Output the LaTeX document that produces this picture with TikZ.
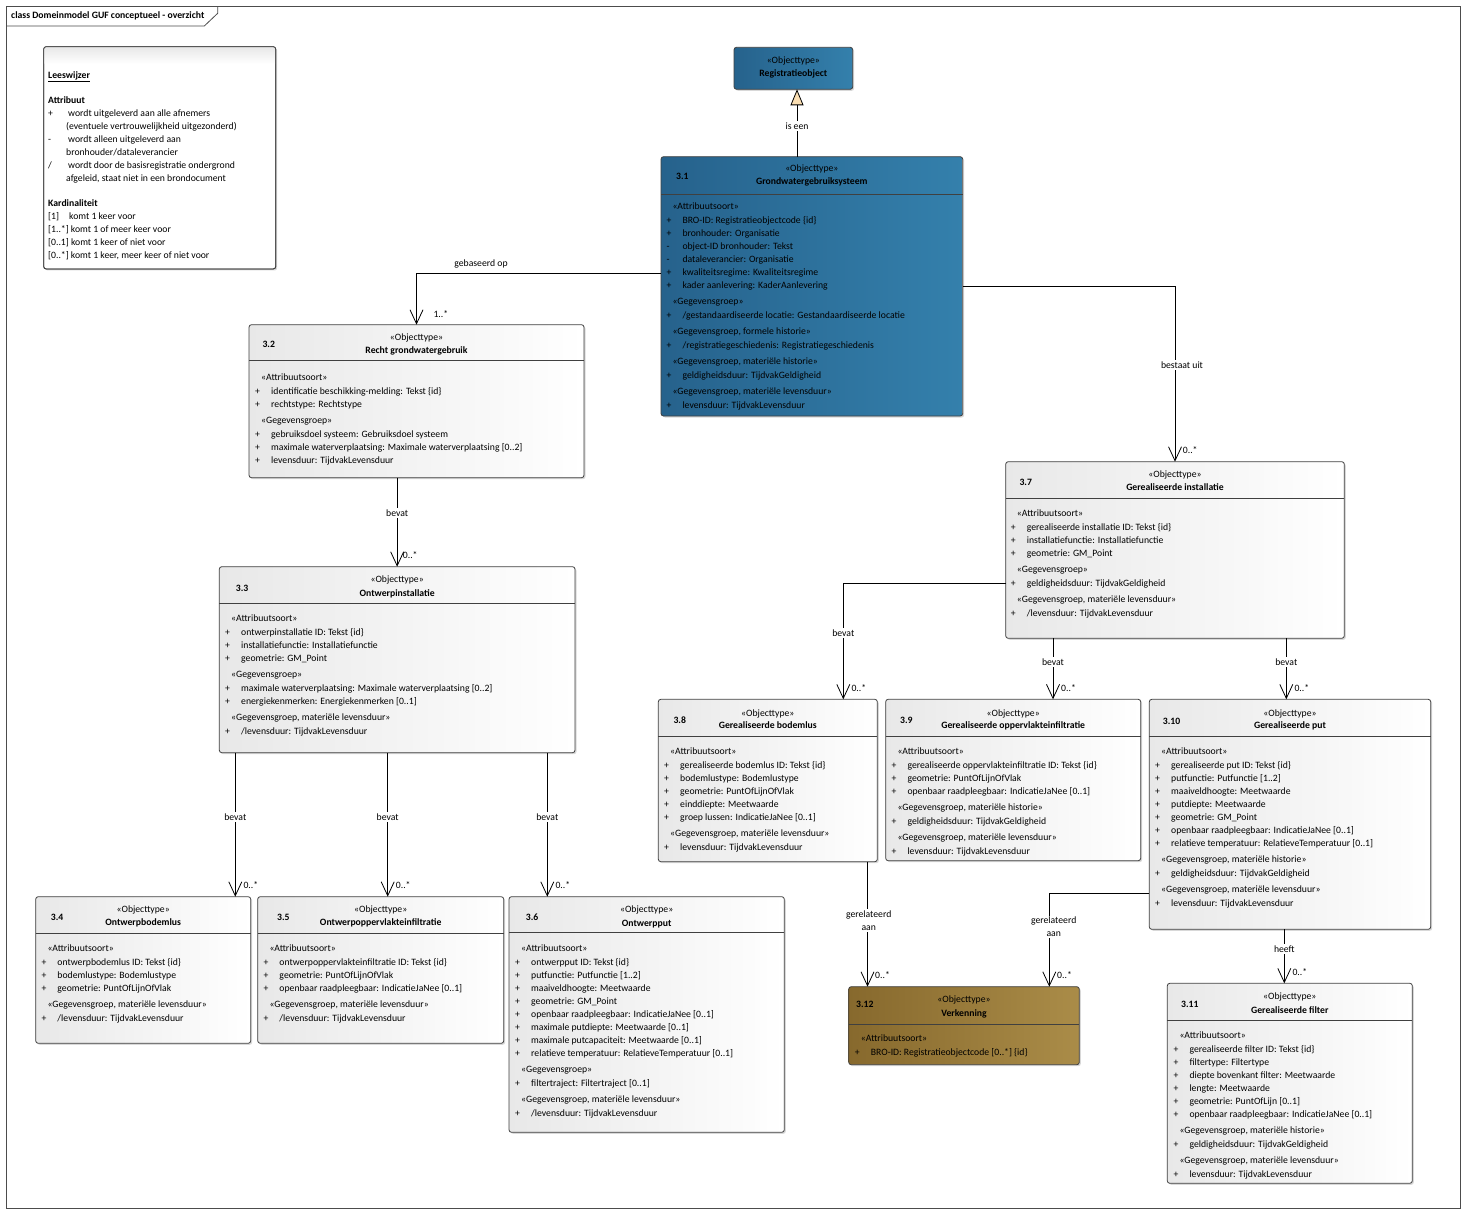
\documentclass[tikz,border=0pt]{standalone}
\usepackage{fontspec}
\setmainfont{Carlito}
\usetikzlibrary{arrows.meta,shadows}
\definecolor{bl1}{RGB}{38,98,140}
\definecolor{bl2}{RGB}{52,128,172}
\definecolor{go1}{RGB}{135,105,45}
\definecolor{go2}{RGB}{170,140,72}
\definecolor{genfill}{RGB}{250,222,178}
\newcommand\dfont{\fontsize{9.7}{13}\selectfont}
\newcommand\ster[1]{\hspace*{6pt}«#1»}
\newcommand\aplus[1]{\makebox[16pt][l]{+}#1}
\newcommand\aminus[1]{\makebox[16pt][l]{-}#1}
\newenvironment{bt}{\begin{tabular}[t]{@{}l@{}}}{\end{tabular}}
\tikzset{
  box/.style={draw=black!75, line width=0.8pt, rounded corners=2.5pt, inner sep=0pt, outer sep=0pt,
    anchor=north west, left color=black!9, right color=white,
    drop shadow={shadow xshift=1.5pt, shadow yshift=-1.5pt, opacity=0.3}},
  bluebox/.style={box, left color=bl1, right color=bl2},
  goldbox/.style={box, left color=go1, right color=go2},
  notebox/.style={draw=black!75, line width=0.8pt, rounded corners=2.5pt, inner sep=0pt, outer sep=0pt,
    anchor=north west, fill=white,
    drop shadow={shadow xshift=1.5pt, shadow yshift=-1.5pt, opacity=0.3}},
  divl/.style={draw=black!75, line width=0.8pt},
  body/.style={anchor=base west, inner sep=0pt, font=\dfont},
  hd/.style={anchor=base, inner sep=0pt, font=\dfont},
  hdb/.style={anchor=base, inner sep=0pt, font=\dfont\bfseries},
  num/.style={anchor=base west, inner sep=0pt, font=\dfont\bfseries},
  assoc/.style={line width=0.8pt, -{Straight Barb[length=14pt,width=13pt]}},
  gen/.style={line width=0.8pt, -{Triangle[length=16pt,width=13pt,fill=genfill]}},
  lbl/.style={fill=white, inner sep=1.5pt, font=\dfont, align=center},
  mul/.style={anchor=base west, inner sep=0pt, font=\dfont},
}
\begin{document}
\begin{tikzpicture}[x=1pt,y=-1pt]
\useasboundingbox (0,0) rectangle (1466,1214);
\fill[white] (0,0) rectangle (1466,1214);
% frame
\draw[line width=0.8pt, draw=black!70] (6.7,6.3) rectangle (1460,1208);
\draw[line width=0.8pt, draw=black!70] (6.7,26) -- (204.3,26) -- (217.7,13.3) -- (217.7,6.3);
\node[anchor=base west, inner sep=0pt, font=\dfont\bfseries] (title) at (11,19) {class Domeinmodel GUF conceptueel - overzicht};

% Leeswijzer
\node[notebox, minimum width=232pt, minimum height=222.3pt] (lw) at (43.7,46.7) {};
\shade[top color=black!9, bottom color=white] ([xshift=0.6pt,yshift=-0.6pt]lw.north west) rectangle ([xshift=-0.6pt]lw.north east |- 0,64);
\draw[line width=0.8pt, draw=black!75, rounded corners=2.5pt] (lw.north west) rectangle (lw.south east);
\node[body] (lwt) at (48,78.5) {\begin{tabular}[t]{@{}l@{}}
\underline{\textbf{Leeswijzer}}\\[12pt]
\textbf{Attribuut}\\
\makebox[20pt][l]{+}wordt uitgeleverd aan alle afnemers\\
\hspace*{18pt}(eventuele vertrouwelijkheid uitgezonderd)\\
\makebox[20pt][l]{-}wordt alleen uitgeleverd aan\\
\hspace*{18pt}bronhouder/dataleverancier\\
\makebox[20pt][l]{/}wordt door de basisregistratie ondergrond\\
\hspace*{18pt}afgeleid, staat niet in een brondocument\\[12pt]
\textbf{Kardinaliteit}\\
\makebox[21pt][l]{[1]}komt 1 keer voor\\
{[1..*]} komt 1 of meer keer voor\\
{[0..1]} komt 1 keer of niet voor\\
{[0..*]} komt 1 keer, meer keer of niet voor
\end{tabular}};

% Registratieobject
\node[bluebox, minimum width=118.7pt, minimum height=42pt] (reg) at (734,47.3) {};
\node[hd] (regs) at (reg.north |- 0,64) {«Objecttype»};
\node[hdb] (regn) at (reg.north |- 0,77) {Registratieobject};

% 3.1
\node[bluebox, minimum width=301.7pt, minimum height=259.3pt] (c31) at (661,156.7) {};
\draw[divl] (c31.west |- 0,194) -- (c31.east |- 0,194);
\node[num] (c31i) at (676,180) {3.1};
\node[hd] (c31s) at (c31.north |- 0,172) {«Objecttype»};
\node[hdb] (c31n) at (c31.north |- 0,185) {Grondwatergebruiksysteem};
\node[body] (c31b) at (666.3,210) {\begin{bt}
\ster{Attribuutsoort}\\[1pt]
\aplus{BRO-ID: Registratieobjectcode \{id\}}\\
\aplus{bronhouder: Organisatie}\\
\aminus{object-ID bronhouder: Tekst}\\
\aminus{dataleverancier: Organisatie}\\
\aplus{kwaliteitsregime: Kwaliteitsregime}\\
\aplus{kader aanlevering: KaderAanlevering}\\[3pt]
\ster{Gegevensgroep}\\[1pt]
\aplus{/gestandaardiseerde locatie: Gestandaardiseerde locatie}\\[3pt]
\ster{Gegevensgroep, formele historie}\\[1pt]
\aplus{/registratiegeschiedenis: Registratiegeschiedenis}\\[3pt]
\ster{Gegevensgroep, materiële historie}\\[1pt]
\aplus{geldigheidsduur: TijdvakGeldigheid}\\[3pt]
\ster{Gegevensgroep, materiële levensduur}\\[1pt]
\aplus{levensduur: TijdvakLevensduur}
\end{bt}};

% 3.2
\node[box, minimum width=335pt, minimum height=153pt] (c32) at (249,324.7) {};
\draw[divl] (c32.west |- 0,360) -- (c32.east |- 0,360);
\node[num] (c32i) at (262.3,347.5) {3.2};
\node[hd] (c32s) at (c32.north |- 0,340.5) {«Objecttype»};
\node[hdb] (c32n) at (c32.north |- 0,353.5) {Recht grondwatergebruik};
\node[body] (c32b) at (255,380) {\begin{bt}
\ster{Attribuutsoort}\\[1pt]
\aplus{identificatie beschikking-melding: Tekst \{id\}}\\
\aplus{rechtstype: Rechtstype}\\[3pt]
\ster{Gegevensgroep}\\[1pt]
\aplus{gebruiksdoel systeem: Gebruiksdoel systeem}\\
\aplus{maximale waterverplaatsing: Maximale waterverplaatsing [0..2]}\\
\aplus{levensduur: TijdvakLevensduur}
\end{bt}};

% 3.3
\node[box, minimum width=355.7pt, minimum height=186pt] (c33) at (219.3,566.7) {};
\draw[divl] (c33.west |- 0,603.3) -- (c33.east |- 0,603.3);
\node[num] (c33i) at (235.7,591) {3.3};
\node[hd] (c33s) at (c33.north |- 0,582.5) {«Objecttype»};
\node[hdb] (c33n) at (c33.north |- 0,596) {Ontwerpinstallatie};
\node[body] (c33b) at (225,621) {\begin{bt}
\ster{Attribuutsoort}\\[1pt]
\aplus{ontwerpinstallatie ID: Tekst \{id\}}\\
\aplus{installatiefunctie: Installatiefunctie}\\
\aplus{geometrie: GM\_Point}\\[3pt]
\ster{Gegevensgroep}\\[1pt]
\aplus{maximale waterverplaatsing: Maximale waterverplaatsing [0..2]}\\
\aplus{energiekenmerken: Energiekenmerken [0..1]}\\[3pt]
\ster{Gegevensgroep, materiële levensduur}\\[1pt]
\aplus{/levensduur: TijdvakLevensduur}
\end{bt}};

% 3.4
\node[box, minimum width=215pt, minimum height=146.6pt] (c34) at (35.7,896.7) {};
\draw[divl] (c34.west |- 0,933.3) -- (c34.east |- 0,933.3);
\node[num] (c34i) at (50.7,920.5) {3.4};
\node[hd] (c34s) at (c34.north |- 0,912.5) {«Objecttype»};
\node[hdb] (c34n) at (c34.north |- 0,925.5) {Ontwerpbodemlus};
\node[body] (c34b) at (41.3,951) {\begin{bt}
\ster{Attribuutsoort}\\[1pt]
\aplus{ontwerpbodemlus ID: Tekst \{id\}}\\
\aplus{bodemlustype: Bodemlustype}\\
\aplus{geometrie: PuntOfLijnOfVlak}\\[3pt]
\ster{Gegevensgroep, materiële levensduur}\\[1pt]
\aplus{/levensduur: TijdvakLevensduur}
\end{bt}};

% 3.5
\node[box, minimum width=246pt, minimum height=146.6pt] (c35) at (257.7,896.7) {};
\draw[divl] (c35.west |- 0,933.3) -- (c35.east |- 0,933.3);
\node[num] (c35i) at (277,920.5) {3.5};
\node[hd] (c35s) at (c35.north |- 0,912.5) {«Objecttype»};
\node[hdb] (c35n) at (c35.north |- 0,925.5) {Ontwerpoppervlakteinfiltratie};
\node[body] (c35b) at (263.3,951) {\begin{bt}
\ster{Attribuutsoort}\\[1pt]
\aplus{ontwerpoppervlakteinfiltratie ID: Tekst \{id\}}\\
\aplus{geometrie: PuntOfLijnOfVlak}\\
\aplus{openbaar raadpleegbaar: IndicatieJaNee [0..1]}\\[3pt]
\ster{Gegevensgroep, materiële levensduur}\\[1pt]
\aplus{/levensduur: TijdvakLevensduur}
\end{bt}};

% 3.6
\node[box, minimum width=275.3pt, minimum height=235.6pt] (c36) at (509,896.7) {};
\draw[divl] (c36.west |- 0,932.7) -- (c36.east |- 0,932.7);
\node[num] (c36i) at (525.7,920) {3.6};
\node[hd] (c36s) at (c36.north |- 0,912.5) {«Objecttype»};
\node[hdb] (c36n) at (c36.north |- 0,926) {Ontwerpput};
\node[body] (c36b) at (515,951.5) {\begin{bt}
\ster{Attribuutsoort}\\[1pt]
\aplus{ontwerpput ID: Tekst \{id\}}\\
\aplus{putfunctie: Putfunctie [1..2]}\\
\aplus{maaiveldhoogte: Meetwaarde}\\
\aplus{geometrie: GM\_Point}\\
\aplus{openbaar raadpleegbaar: IndicatieJaNee [0..1]}\\
\aplus{maximale putdiepte: Meetwaarde [0..1]}\\
\aplus{maximale putcapaciteit: Meetwaarde [0..1]}\\
\aplus{relatieve temperatuur: RelatieveTemperatuur [0..1]}\\[3pt]
\ster{Gegevensgroep}\\[1pt]
\aplus{filtertraject: Filtertraject [0..1]}\\[3pt]
\ster{Gegevensgroep, materiële levensduur}\\[1pt]
\aplus{/levensduur: TijdvakLevensduur}
\end{bt}};

% 3.7
\node[box, minimum width=338.6pt, minimum height=176.6pt] (c37) at (1005.7,461.7) {};
\draw[divl] (c37.west |- 0,498.7) -- (c37.east |- 0,498.7);
\node[num] (c37i) at (1019.3,485) {3.7};
\node[hd] (c37s) at (c37.north |- 0,477.5) {«Objecttype»};
\node[hdb] (c37n) at (c37.north |- 0,490.5) {Gerealiseerde installatie};
\node[body] (c37b) at (1010.7,516) {\begin{bt}
\ster{Attribuutsoort}\\[1pt]
\aplus{gerealiseerde installatie ID: Tekst \{id\}}\\
\aplus{installatiefunctie: Installatiefunctie}\\
\aplus{geometrie: GM\_Point}\\[3pt]
\ster{Gegevensgroep}\\[1pt]
\aplus{geldigheidsduur: TijdvakGeldigheid}\\[3pt]
\ster{Gegevensgroep, materiële levensduur}\\[1pt]
\aplus{/levensduur: TijdvakLevensduur}
\end{bt}};

% 3.8
\node[box, minimum width=219pt, minimum height=162.4pt] (c38) at (658.3,699.3) {};
\draw[divl] (c38.west |- 0,736.3) -- (c38.east |- 0,736.3);
\node[num] (c38i) at (673.3,723.5) {3.8};
\node[hd] (c38s) at (c38.north |- 0,716) {«Objecttype»};
\node[hdb] (c38n) at (c38.north |- 0,728.5) {Gerealiseerde bodemlus};
\node[body] (c38b) at (664,754.5) {\begin{bt}
\ster{Attribuutsoort}\\[1pt]
\aplus{gerealiseerde bodemlus ID: Tekst \{id\}}\\
\aplus{bodemlustype: Bodemlustype}\\
\aplus{geometrie: PuntOfLijnOfVlak}\\
\aplus{einddiepte: Meetwaarde}\\
\aplus{groep lussen: IndicatieJaNee [0..1]}\\[3pt]
\ster{Gegevensgroep, materiële levensduur}\\[1pt]
\aplus{levensduur: TijdvakLevensduur}
\end{bt}};

% 3.9
\node[box, minimum width=255pt, minimum height=161.4pt] (c39) at (885.7,699.3) {};
\draw[divl] (c39.west |- 0,736.3) -- (c39.east |- 0,736.3);
\node[num] (c39i) at (900,723.5) {3.9};
\node[hd] (c39s) at (c39.north |- 0,716) {«Objecttype»};
\node[hdb] (c39n) at (c39.north |- 0,728.5) {Gerealiseerde oppervlakteinfiltratie};
\node[body] (c39b) at (891.3,754.5) {\begin{bt}
\ster{Attribuutsoort}\\[1pt]
\aplus{gerealiseerde oppervlakteinfiltratie ID: Tekst \{id\}}\\
\aplus{geometrie: PuntOfLijnOfVlak}\\
\aplus{openbaar raadpleegbaar: IndicatieJaNee [0..1]}\\[3pt]
\ster{Gegevensgroep, materiële historie}\\[1pt]
\aplus{geldigheidsduur: TijdvakGeldigheid}\\[3pt]
\ster{Gegevensgroep, materiële levensduur}\\[1pt]
\aplus{levensduur: TijdvakLevensduur}
\end{bt}};

% 3.10
\node[box, minimum width=281.4pt, minimum height=230pt] (c310) at (1149.3,699.3) {};
\draw[divl] (c310.west |- 0,736) -- (c310.east |- 0,736);
\node[num] (c310i) at (1162.7,724.5) {3.10};
\node[hd] (c310s) at (c310.north |- 0,716) {«Objecttype»};
\node[hdb] (c310n) at (c310.north |- 0,728.5) {Gerealiseerde put};
\node[body] (c310b) at (1155,754.5) {\begin{bt}
\ster{Attribuutsoort}\\[1pt]
\aplus{gerealiseerde put ID: Tekst \{id\}}\\
\aplus{putfunctie: Putfunctie [1..2]}\\
\aplus{maaiveldhoogte: Meetwaarde}\\
\aplus{putdiepte: Meetwaarde}\\
\aplus{geometrie: GM\_Point}\\
\aplus{openbaar raadpleegbaar: IndicatieJaNee [0..1]}\\
\aplus{relatieve temperatuur: RelatieveTemperatuur [0..1]}\\[3pt]
\ster{Gegevensgroep, materiële historie}\\[1pt]
\aplus{geldigheidsduur: TijdvakGeldigheid}\\[3pt]
\ster{Gegevensgroep, materiële levensduur}\\[1pt]
\aplus{levensduur: TijdvakLevensduur}
\end{bt}};

% 3.11
\node[box, minimum width=245pt, minimum height=200pt] (c311) at (1167.3,983.3) {};
\draw[divl] (c311.west |- 0,1020.3) -- (c311.east |- 0,1020.3);
\node[num] (c311i) at (1181,1007) {3.11};
\node[hd] (c311s) at (c311.north |- 0,999.5) {«Objecttype»};
\node[hdb] (c311n) at (c311.north |- 0,1013) {Gerealiseerde filter};
\node[body] (c311b) at (1173.3,1038.5) {\begin{bt}
\ster{Attribuutsoort}\\[1pt]
\aplus{gerealiseerde filter ID: Tekst \{id\}}\\
\aplus{filtertype: Filtertype}\\
\aplus{diepte bovenkant filter: Meetwaarde}\\
\aplus{lengte: Meetwaarde}\\
\aplus{geometrie: PuntOfLijn [0..1]}\\
\aplus{openbaar raadpleegbaar: IndicatieJaNee [0..1]}\\[3pt]
\ster{Gegevensgroep, materiële historie}\\[1pt]
\aplus{geldigheidsduur: TijdvakGeldigheid}\\[3pt]
\ster{Gegevensgroep, materiële levensduur}\\[1pt]
\aplus{levensduur: TijdvakLevensduur}
\end{bt}};

% 3.12
\node[goldbox, minimum width=230.6pt, minimum height=78pt] (c312) at (848.7,986.7) {};
\draw[divl] (c312.west |- 0,1024) -- (c312.east |- 0,1024);
\node[num] (c312i) at (856,1007) {3.12};
\node[hd] (c312s) at (c312.north |- 0,1002) {«Objecttype»};
\node[hdb] (c312n) at (c312.north |- 0,1016) {Verkenning};
\node[body] (c312b) at (854.7,1041) {\begin{bt}
\ster{Attribuutsoort}\\[1pt]
\aplus{BRO-ID: Registratieobjectcode [0..*] \{id\}}
\end{bt}};

% ---- connectors ----
\draw[gen] (c31.north -| 797,0) -- (reg.south -| 797,0);
\node[lbl] (l1) at (797,126) {is een};

\draw[assoc] (c31.west |- 0,273) -| (c32.north);
\node[anchor=center, inner sep=0pt, font=\dfont] (l2) at (481,264) {gebaseerd op};
\node[mul] (m2) at (433.3,317.5) {1..*};

\draw[assoc] (c31.east |- 0,286.5) -| (c37.north);
\node[lbl] (l3) at (1182,365) {bestaat uit};
\node[mul] (m3) at (1182.7,453.5) {0..*};

\draw[assoc] (c33.north |- c32.south) -- (c33.north);
\node[lbl] (l4) at (c33.north |- 0,513.3) {bevat};
\node[mul] (m4) at (402.7,558.8) {0..*};

\foreach \X/\T [count=\i] in {235.3/c34, 387.7/c35, 547.3/c36} {
  \draw[assoc] (c33.south -| \X,0) -- (\T.north -| \X,0);
  \node[lbl] (lb\i) at (\X,816.7) {bevat};
  \node[mul] (mb\i) at (\X+8,888.5) {0..*};
}

\draw[assoc] (c37.west |- 0,583.3) -| (c38.north -| 843.3,0);
\node[lbl] (l5) at (843.3,633) {bevat};
\node[mul] (m5) at (851.3,691.5) {0..*};

\draw[assoc] (c37.south -| 1053,0) -- (c39.north -| 1053,0);
\node[lbl] (l6) at (1053,662) {bevat};
\node[mul] (m6) at (1061,691.5) {0..*};

\draw[assoc] (c37.south -| 1286.3,0) -- (c310.north -| 1286.3,0);
\node[lbl] (l7) at (1286.3,662) {bevat};
\node[mul] (m7) at (1294.3,691.5) {0..*};

\draw[assoc] (c38.south -| 867.5,0) -- (c312.north -| 867.5,0);
\node[lbl] (l8) at (868.7,920.3) {gerelateerd\\aan};
\node[mul] (m8) at (875,978.8) {0..*};

\draw[assoc] (c310.west |- 0,893.3) -| (c312.north -| 1049.3,0);
\node[lbl] (l9) at (1053.7,927) {gerelateerd\\aan};
\node[mul] (m9) at (1057,978.5) {0..*};

\draw[assoc] (c310.south -| 1284.3,0) -- (c311.north -| 1284.3,0);
\node[lbl] (l10) at (1284.3,949) {heeft};
\node[mul] (m10) at (1292.3,975.8) {0..*};
\end{tikzpicture}
\end{document}
